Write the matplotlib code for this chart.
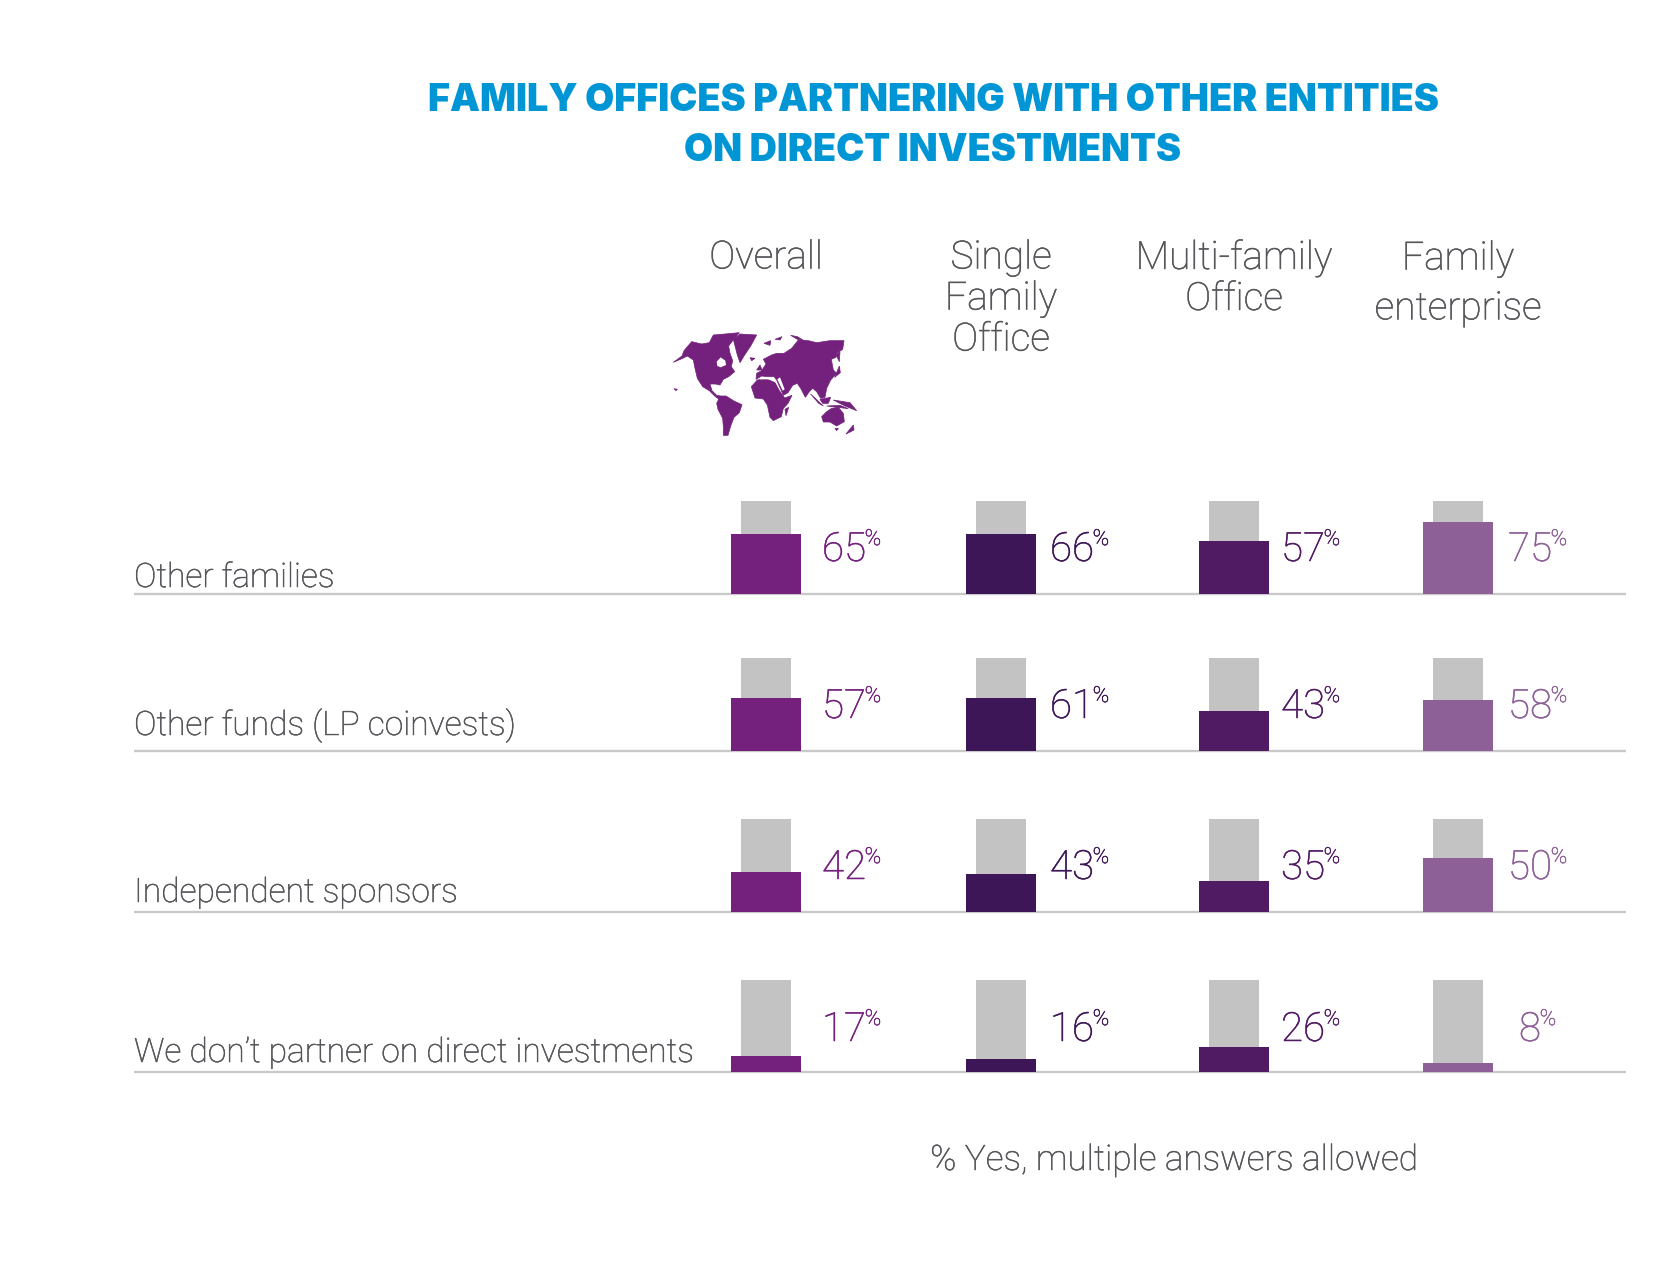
import matplotlib
matplotlib.use('Agg')
import matplotlib.pyplot as plt
import matplotlib.patheffects as pe
from matplotlib.patches import Polygon

# chart values
rows = ['Other families', 'Other funds (LP coinvests)', 'Independent sponsors',
        'We don\u2019t partner on direct investments']
columns = ['Overall', 'Single\nFamily\nOffice', 'Multi-family\nOffice', 'Family\nenterprise']
# printed labels
overall_labels = [65, 57, 42, 17]
single_labels = [66, 61, 43, 16]
multi_labels = [57, 43, 35, 26]
enterprise_labels = [75, 58, 50, 8]
# bar heights as drawn (they differ a bit from the labels)
overall_bars = [65, 57, 43, 17]
single_bars = [64, 57, 41, 14]
multi_bars = [57, 43, 33, 27]
enterprise_bars = [77, 55, 58, 10]

colors = ['#73217c', '#3c1656', '#511b63', '#8e6098']
grey = '#c3c3c3'
text_color = '#55565a'
title_color = '#0096d6'

# layout in pixels
col_x = [766, 1001, 1234, 1458]
label_x = [854, 1082, 1313, 1540]
baselines = [594, 751, 912, 1072]
grey_h = [93, 93, 93, 92]
row_text_y = [587, 735, 902, 1062]
value_y = [561, 718, 879, 1041]
full_h = 93


def firm(color):
    # light weight comes out too pale, thicken it slightly
    return [pe.withStroke(linewidth=0.35, foreground=color)]


fig = plt.figure(figsize=(16.64, 12.78), dpi=100)
ax = fig.add_axes([0, 0, 1, 1])
ax.set_xlim(0, 1664)
ax.set_ylim(1278, 0)
ax.axis('off')

ax.text(933, 101, 'FAMILY OFFICES PARTNERING WITH OTHER ENTITIES', color=title_color,
        family='Inter', weight='black', fontsize=27.2, ha='center', va='center')
ax.text(933, 151, 'ON DIRECT INVESTMENTS', color=title_color,
        family='Inter', weight='black', fontsize=27.2, ha='center', va='center')

header_y = [239, 239, 239, 240]
spacing = [1.12, 1.12, 1.12, 1.42]
for i in range(4):
    ax.text(col_x[i], header_y[i], columns[i], color=text_color, family='Roboto', weight='light',
            fontsize=28, ha='center', va='top', linespacing=spacing[i], path_effects=firm(text_color))

series_labels = [overall_labels, single_labels, multi_labels, enterprise_labels]
series_bars = [overall_bars, single_bars, multi_bars, enterprise_bars]

for r, name in enumerate(rows):
    base = baselines[r]
    ax.plot([134, 1626], [base, base], color='#c9c9c9', lw=1.7, solid_capstyle='butt', zorder=1)
    ax.text(134, row_text_y[r], name, color=text_color, family='Roboto', weight='light',
            fontsize=24.2, va='baseline', ha='left', path_effects=firm(text_color))
    for c in range(4):
        h = series_bars[c][r] / 100 * full_h
        ax.bar(col_x[c], -grey_h[r], bottom=base, width=50, color=grey, zorder=2)
        ax.bar(col_x[c], -h, bottom=base, width=70, color=colors[c], zorder=3)
        num = ax.text(label_x[c] - 10, value_y[r], str(series_labels[c][r]), color=colors[c],
                      family='Roboto', weight='light', fontsize=29, ha='center', va='baseline',
                      path_effects=firm(colors[c]))
        ax.annotate('%', xy=(1, 1), xycoords=num, xytext=(-1, 1), textcoords='offset points',
                    color=colors[c], family='Roboto', weight='light', fontsize=16,
                    ha='left', va='top', path_effects=firm(colors[c]))

ax.text(1174, 1160, '% Yes, multiple answers allowed', color=text_color, family='Roboto',
        weight='light', fontsize=25.3, ha='center', va='center', path_effects=firm(text_color))

# world map, rough outlines
land = [
    # north america with the arctic islands
    [(40,127),(66,108),(72,92),(95,65),(125,72),(148,68),(160,45),(195,42),(238,38),(218,62),(206,78),
     (210,100),(218,122),(214,140),(224,155),(206,170),(190,178),(180,195),(166,192),(150,192),(156,212),
     (170,226),(182,228),(196,228),(200,238),(180,240),(164,228),(148,212),(128,200),(112,175),(105,145),
     (100,120),(82,108),(68,115)],
    # greenland
    [(220,58),(240,42),(290,45),(272,78),(252,108),(240,128),(232,105)],
    [(270,113),(285,115),(275,122)],
    # south america
    [(170,250),(178,234),(198,228),(222,243),(246,254),(238,278),(222,292),(212,318),(204,346),(190,346),
     (190,320),(188,295),(174,268)],
    # africa
    [(274,200),(292,180),(318,176),(345,188),(358,212),(374,234),(396,226),(384,250),(370,265),(364,290),
     (340,302),(330,292),(322,255),(310,237),(285,234)],
    [(375,268),(386,262),(378,287)],
    # eurasia
    [(288,178),(290,160),(305,152),(318,132),(310,118),(335,105),(350,100),(372,100),(395,85),(415,60),
     (445,62),(470,68),(510,62),(552,62),(548,88),(530,100),(528,112),(514,118),(520,150),(530,160),(512,180),
     (500,205),(495,232),(482,235),(470,215),(458,205),(448,215),(436,232),(422,205),(412,190),(398,196),
     (384,218),(370,226),(350,180),(342,170),(322,170),(305,168)],
    [(290,150),(300,135),(306,150)],
    [(312,70),(332,62),(330,76)],
    [(345,58),(366,50),(360,60)],
    [(392,46),(412,50),(432,62),(412,58)],
    [(524,172),(538,138),(541,158)],
    [(528,104),(540,95),(538,125)],
    [(452,222),(490,258),(476,250)],
    [(480,238),(512,232),(505,250),(488,250)],
    [(500,258),(565,266),(540,256)],
    [(520,240),(570,248),(590,272),(555,258)],
    # australia
    [(485,290),(500,275),(515,265),(535,262),(550,280),(553,305),(530,318),(510,306),(490,306)],
    [(558,342),(580,315),(582,330)],
    [(525,325),(535,325),(530,332)],
    [(42,206),(52,208),(48,212)],
]
for shape in land:
    pts = [(660 + x / 3, 320 + y / 3) for x, y in shape]
    ax.add_patch(Polygon(pts, closed=True, facecolor=colors[0], edgecolor=colors[0], lw=0.5, zorder=2))
# water cut out of the land
water = [
    [(170,125),(182,112),(196,122),(198,135),(182,142),(172,138)],
    [(300,172),(345,174),(344,178),(300,178)],
    [(352,178),(360,172),(374,208),(368,212)],
]
for shape in water:
    pts = [(660 + x / 3, 320 + y / 3) for x, y in shape]
    ax.add_patch(Polygon(pts, facecolor='white', edgecolor='none', zorder=3))

fig.savefig('out.png', dpi=100, facecolor='white')
